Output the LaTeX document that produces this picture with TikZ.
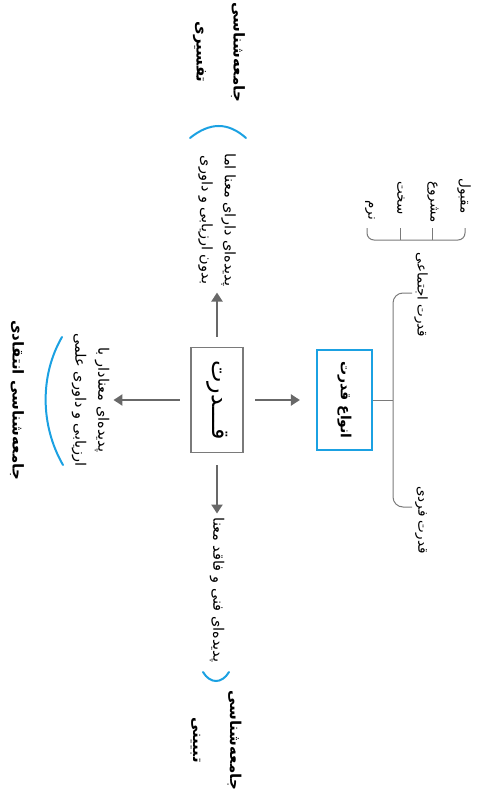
\documentclass[tikz,border=0pt]{standalone}
\usepackage{fontspec}
\newfontfamily\fa[Script=Arabic]{DejaVu Sans}
\TeXXeTstate=1
\usetikzlibrary{arrows.meta}
\definecolor{skyblue}{HTML}{1BA1E2}
\definecolor{arrowgray}{HTML}{686868}
\definecolor{boxgray}{HTML}{7A7A7A}
\newcommand{\rl}[1]{\beginR #1\endR}

\begin{document}
\begin{tikzpicture}[x=1pt,y=1pt,rotate=-90,transform shape,
    desc/.style={font=\fa\fontsize{14.5}{23}\selectfont,align=center,inner sep=0pt},
    title/.style={font=\fa\bfseries\fontsize{15}{37}\selectfont,align=center,inner sep=0pt},
    leaf/.style={font=\fa\fontsize{13.5}{16}\selectfont,inner sep=0pt},
    link/.style={arrowgray,line width=2.2pt,-{Triangle[length=9pt,width=11pt]}},
    bluearc/.style={skyblue,line width=2pt,line cap=round},
    brace/.style={boxgray,line width=1pt}]
  \useasboundingbox (0,0) rectangle (792,478);

  \node[draw=boxgray,line width=1.2pt,minimum width=105,minimum height=51,
        font=\fa\fontsize{24}{28}\selectfont] (power) at (400,217) {\rl{قـــدرت}};
  \draw[boxgray,line width=2.4pt] (power.south west) -- (power.south east);
  \draw[boxgray,line width=2.4pt] (power.north west) -- (power.north east);

  \node[title] (interp) at (52,219) {\rl{جامعه‌شناسی}\\\rl{تفسیری}};
  \node[desc] (interpdesc) at (220,217) {\rl{پدیده‌ای دارای معنا اما}\\\rl{بدون ارزیابی و داوری}};
  \draw[bluearc] (138,190) .. controls (122,210) and (122,228) .. (138,246);

  \node[desc] (explaindesc) at (590,217) {\rl{پدیده‌ای فنی و فاقد معنا}};
  \draw[bluearc] (672,203) .. controls (684,210) and (684,222) .. (672,229);
  \node[title] (explain) at (740,216) {\rl{جامعه‌شناسی}\\\rl{تبیینی}};

  \node[desc] (critdesc) at (400,90.5) {\rl{پدیده‌ای معنادار با}\\\rl{ارزیابی و داوری علمی}};
  \draw[bluearc] (337,62) .. controls (375,40) and (425,40) .. (465,63);
  \node[title] (crit) at (400,17) {\rl{جامعه‌شناسی انتقادی}};

  \node[draw=skyblue,line width=2.2pt,minimum width=100,minimum height=55,
        font=\fa\bfseries\fontsize{14}{17}\selectfont] (types) at (400,344.5) {\rl{انواع قدرت}};

  \draw[link,shorten <=10pt,shorten >=6pt] (power.west) -- (interpdesc.east);
  \draw[link,shorten <=12pt,shorten >=4pt] (power.east) -- (explaindesc.west);
  \draw[link,shorten <=11pt,shorten >=4pt] (power.south) -- (critdesc.north);
  \draw[link,shorten <=12pt,shorten >=16pt] (power.north) -- (types.south);

  \coordinate (T) at (400,393);
  \draw[brace] (types.north) -- (T);
  \draw[brace,rounded corners=10pt] (293,412) -- (293,393) -- (507,393) -- (507,412);
  \node[leaf] (social) at (295,421) {\rl{قدرت اجتماعی}};
  \node[leaf] (single) at (520,421) {\rl{قدرت فردی}};

  \draw[brace,rounded corners=7pt] (228,367) -- (240,367) -- (240,465) -- (228,465);
  \foreach \v in {400,432}{
    \draw[brace] (240,\v) -- (228,\v);
  }
  \node[leaf] (accepted) at (196,464) {\rl{مقبول}};
  \node[leaf] (legit) at (202,433) {\rl{مشروع}};
  \node[leaf] (hard) at (198,401) {\rl{سخت}};
  \node[leaf] (soft) at (210,370) {\rl{نرم}};
\end{tikzpicture}
\end{document}
